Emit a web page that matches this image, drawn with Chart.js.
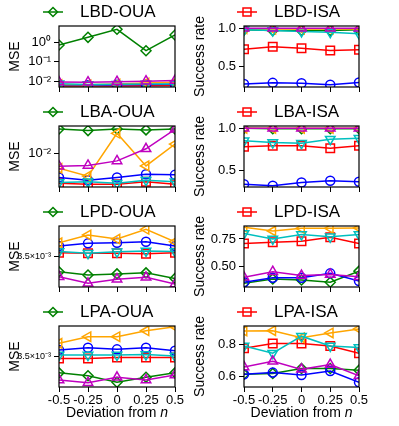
<!DOCTYPE html>
<html>
<head>
<meta charset="utf-8">
<script src="https://cdn.jsdelivr.net/npm/chart.js@4.4.1/dist/chart.umd.min.js"></script>
<style>
  html, body { margin: 0; padding: 0; background: #fff; }
  body { width: 399px; height: 426px; position: relative; overflow: hidden; }
  .panel { position: absolute; }
</style>
</head>
<body>
<script>
// x categories (deviation from n)
const xLabels = ['-0.5', '-0.25', '0', '0.25', '0.5'];
const xTitle = 'Deviation from ';
const xTitleVar = 'n';

// series order in every panel: green, red, blue, orange, cyan, magenta
// MSE panels (left column)
const mseLBD = [
  [0.70, 1.73, 4.43, 0.36, 2.27],
  [0.0058, 0.0057, 0.0058, 0.0060, 0.0062],
  [0.0065, 0.0063, 0.0066, 0.0068, 0.0070],
  [0.0068, 0.0066, 0.0072, 0.0082, 0.0090],
  [0.0075, 0.0068, 0.0070, 0.0072, 0.0073],
  [0.0092, 0.0090, 0.0095, 0.0102, 0.0110]
];
const mseLBA = [
  [0.0227, 0.0215, 0.0227, 0.0220, 0.0227],
  [0.0036, 0.0035, 0.0035, 0.0038, 0.0035],
  [0.0044, 0.0040, 0.0044, 0.0049, 0.0048],
  [0.0060, 0.0046, 0.0196, 0.0065, 0.0136],
  [0.0037, 0.0038, 0.0036, 0.0040, 0.0038],
  [0.0064, 0.0066, 0.0077, 0.0116, 0.0224]
];
const mseLPD = [
  [0.00318, 0.00312, 0.00314, 0.00316, 0.003055],
  [0.00357, 0.00356, 0.00356, 0.00355, 0.00357],
  [0.00372, 0.00378, 0.003795, 0.003818, 0.00372],
  [0.003795, 0.003977, 0.00388, 0.004117, 0.003818],
  [0.00360, 0.00356, 0.00359, 0.00361, 0.00360],
  [0.003087, 0.002965, 0.00304, 0.003076, 0.002953]
];
const mseLPA = [
  [0.00316, 0.003105, 0.002985, 0.003076, 0.00316],
  [0.00345, 0.00345, 0.00347, 0.00347, 0.00347],
  [0.00363, 0.00368, 0.003645, 0.00368, 0.003615],
  [0.00378, 0.003936, 0.003936, 0.00408, 0.00418],
  [0.00352, 0.00352, 0.00352, 0.00353, 0.00350],
  [0.003027, 0.002978, 0.003076, 0.003027, 0.00312]
];

// success rate panels (right column)
const srLBD = [
  [0.98, 0.97, 0.97, 0.97, 0.98],
  [0.727, 0.76, 0.74, 0.71, 0.72],
  [0.275, 0.29, 0.285, 0.265, 0.295],
  [0.995, 0.99, 0.99, 0.99, 0.99],
  [0.98, 0.97, 0.96, 0.95, 0.93],
  [1.0, 1.0, 1.0, 1.0, 1.0]
];
const srLBA = [
  [1.0, 0.995, 0.995, 0.995, 0.995],
  [0.78, 0.79, 0.79, 0.76, 0.79],
  [0.33, 0.31, 0.35, 0.37, 0.36],
  [1.0, 1.0, 1.0, 1.0, 1.0],
  [0.85, 0.83, 0.82, 0.87, 0.88],
  [1.0, 1.0, 1.0, 1.0, 1.0]
];
const srLPD = [
  [0.35, 0.39, 0.38, 0.36, 0.46],
  [0.71, 0.72, 0.73, 0.765, 0.71],
  [0.36, 0.40, 0.40, 0.44, 0.37],
  [0.856, 0.822, 0.846, 0.846, 0.85],
  [0.80, 0.75, 0.79, 0.77, 0.79],
  [0.404, 0.455, 0.42, 0.43, 0.41]
];
const srLPA = [
  [0.615, 0.62, 0.65, 0.65, 0.64],
  [0.775, 0.805, 0.805, 0.79, 0.745],
  [0.615, 0.625, 0.61, 0.635, 0.565],
  [0.882, 0.884, 0.84, 0.87, 0.895],
  [0.79, 0.745, 0.85, 0.79, 0.78],
  [0.66, 0.695, 0.645, 0.675, 0.605]
];

const ouaNames = ['LBD-OUA', 'LBA-OUA', 'LPD-OUA', 'LPA-OUA'];
const isaNames = ['LBD-ISA', 'LBA-ISA', 'LPD-ISA', 'LPA-ISA'];
const mseData = [mseLBD, mseLBA, mseLPD, mseLPA];
const srData = [srLBD, srLBA, srLPD, srLPA];

// axis limits and ticks
const mseRange = [[0.00513, 6.52], [0.00318, 0.0251], [0.0029, 0.0042], [0.0029, 0.0042]];
const mseTicks = [[1, 0.1, 0.01], [0.01], [0.0035], [0.0035]];
const mseTickLabels = [['10⁰', '10⁻¹', '10⁻²'], ['10⁻²'], ['3.5×10⁻³'], ['3.5×10⁻³']];
const srRange = [[0.236, 1.03], [0.296, 1.028], [0.317, 0.867], [0.536, 0.913]];
const srTicks = [[0.5, 1.0], [0.5, 1.0], [0.5, 0.75], [0.6, 0.8]];
const srTickLabels = [['0.5', '1.0'], ['0.5', '1.0'], ['0.50', '0.75'], ['0.6', '0.8']];

const FONT = "'Liberation Sans', Arial, Helvetica, sans-serif";
Chart.defaults.font.family = FONT;
Chart.defaults.color = '#000';
Chart.defaults.animation = false;

const seriesStyles = [
  { color: '#008000', point: 'rectRot', radius: 5, rotation: 0 },
  { color: '#ff0000', point: 'rect', radius: 6, rotation: 0 },
  { color: '#0000ff', point: 'circle', radius: 4.5, rotation: 0 },
  { color: '#ffa500', point: 'triangle', radius: 5.5, rotation: 270 },
  { color: '#00bfbf', point: 'triangle', radius: 5.5, rotation: 180 },
  { color: '#bf00bf', point: 'triangle', radius: 5.5, rotation: 0 }
];

// line + hollow marker, like a matplotlib legend handle
function legendIcon(style) {
  const c = document.createElement('canvas');
  c.width = 24; c.height = 14;
  const g = c.getContext('2d');
  g.strokeStyle = style.color;
  g.lineWidth = 1.5;
  g.beginPath(); g.moveTo(2, 7); g.lineTo(22, 7); g.stroke();
  g.beginPath();
  if (style.point === 'rectRot') {
    g.moveTo(12, 2.5); g.lineTo(16.5, 7); g.lineTo(12, 11.5); g.lineTo(7.5, 7); g.closePath();
  } else {
    g.rect(8, 3, 8, 8);
  }
  g.stroke();
  return c;
}

function addPanel(p) {
  const canvas = document.createElement('canvas');
  canvas.width = p.w; canvas.height = p.h;
  canvas.className = 'panel';
  canvas.style.left = p.x + 'px';
  canvas.style.top = p.y + 'px';
  document.body.appendChild(canvas);

  const datasets = p.values.map((vals, i) => {
    const s = seriesStyles[i];
    return {
      data: vals,
      borderColor: s.color,
      borderWidth: 1.5,
      pointStyle: s.point,
      pointRadius: s.radius,
      pointRotation: s.rotation,
      pointBorderColor: s.color,
      pointBackgroundColor: 'rgba(0,0,0,0)',
      pointBorderWidth: 1.5,
      fill: false,
      tension: 0,
      clip: 0,
      order: 6 - i
    };
  });

  const icon = legendIcon(seriesStyles[p.legendSeries]);
  const tickGrid = { drawOnChartArea: false, drawTicks: true, tickLength: 5, color: '#000', lineWidth: 1 };

  const panelPlugin = {
    id: 'panel',
    afterLayout(chart) {
      chart.legend.left = p.legendX - 3.5;
    },
    afterDatasetsDraw(chart) {
      const a = chart.chartArea, ctx = chart.ctx;
      ctx.save();
      ctx.strokeStyle = '#000';
      ctx.lineWidth = 1.2;
      ctx.strokeRect(a.left, a.top, a.right - a.left, a.bottom - a.top);
      ctx.restore();
    },
    afterDraw(chart) {
      if (!p.xTitleY) return;
      const a = chart.chartArea, ctx = chart.ctx;
      const f1 = `14px ${FONT}`, f2 = `italic 14px ${FONT}`;
      ctx.save();
      ctx.fillStyle = '#000';
      ctx.textBaseline = 'alphabetic';
      ctx.font = f1; const w1 = ctx.measureText(xTitle).width;
      ctx.font = f2; const w2 = ctx.measureText(xTitleVar).width;
      const x0 = (a.left + a.right) / 2 - (w1 + w2) / 2;
      ctx.font = f1; ctx.fillText(xTitle, x0, p.xTitleY);
      ctx.font = f2; ctx.fillText(xTitleVar, x0 + w1, p.xTitleY);
      ctx.restore();
    }
  };

  new Chart(canvas, {
    type: 'line',
    data: { labels: xLabels, datasets },
    options: {
      responsive: false,
      events: [],
      layout: { padding: { left: 0, right: p.padR, top: 0, bottom: 0 } },
      plugins: {
        tooltip: { enabled: false },
        legend: {
          display: true,
          position: 'top',
          align: 'start',
          maxHeight: 26,
          onClick: null,
          labels: {
            usePointStyle: true,
            pointStyleWidth: 37,
            padding: 3.5,
            color: '#000',
            font: { size: 17 },
            generateLabels: () => [{
              text: p.name, pointStyle: icon, fillStyle: 'rgba(0,0,0,0)',
              strokeStyle: 'rgba(0,0,0,0)', lineWidth: 0, hidden: false, datasetIndex: 0
            }]
          }
        }
      },
      scales: {
        x: {
          type: 'category',
          offset: false,
          grid: tickGrid,
          border: { display: false },
          ticks: { display: p.showX, autoSkip: false, maxRotation: 0, minRotation: 0, padding: 1, color: '#000', font: { size: 13 } },
          afterFit: (s) => { s.height = p.xAxisH; }
        },
        y: {
          type: p.log ? 'logarithmic' : 'linear',
          min: p.range[0],
          max: p.range[1],
          grid: tickGrid,
          border: { display: false },
          ticks: { padding: 3, color: '#000', font: { size: p.tickSize }, callback: (v, i) => p.tickLabels[i] },
          afterBuildTicks: (s) => { s.ticks = p.ticks.map(v => ({ value: v })); },
          afterFit: (s) => { s.width = p.yAxisW; },
          title: { display: true, text: p.yTitle, color: '#000', font: { size: 14 }, padding: { top: p.titlePad, bottom: 0 } }
        }
      }
    },
    plugins: [panelPlugin]
  });
}

for (let r = 0; r < 4; r++) {
  const last = r === 3;
  addPanel({
    x: 0, y: r * 100, w: 200, h: last ? 126 : 100,
    padR: 25, yAxisW: 59, xAxisH: last ? 39 : 13, showX: last,
    xTitleY: last ? 116.5 : 0,
    legendX: 34.5, legendSeries: 0, name: ouaNames[r],
    values: mseData[r], log: true, range: mseRange[r],
    ticks: mseTicks[r], tickLabels: mseTickLabels[r], tickSize: r < 2 ? 13 : 9,
    yTitle: 'MSE', titlePad: 6.6
  });
  addPanel({
    x: 190, y: r * 100, w: 209, h: last ? 126 : 100,
    padR: 40, yAxisW: 54, xAxisH: last ? 39 : 13, showX: last,
    xTitleY: last ? 116.5 : 0,
    legendX: 38.5, legendSeries: 1, name: isaNames[r],
    values: srData[r], log: false, range: srRange[r],
    ticks: srTicks[r], tickLabels: srTickLabels[r], tickSize: 13,
    yTitle: 'Success rate', titlePad: 1.6
  });
}
</script>
</body>
</html>
